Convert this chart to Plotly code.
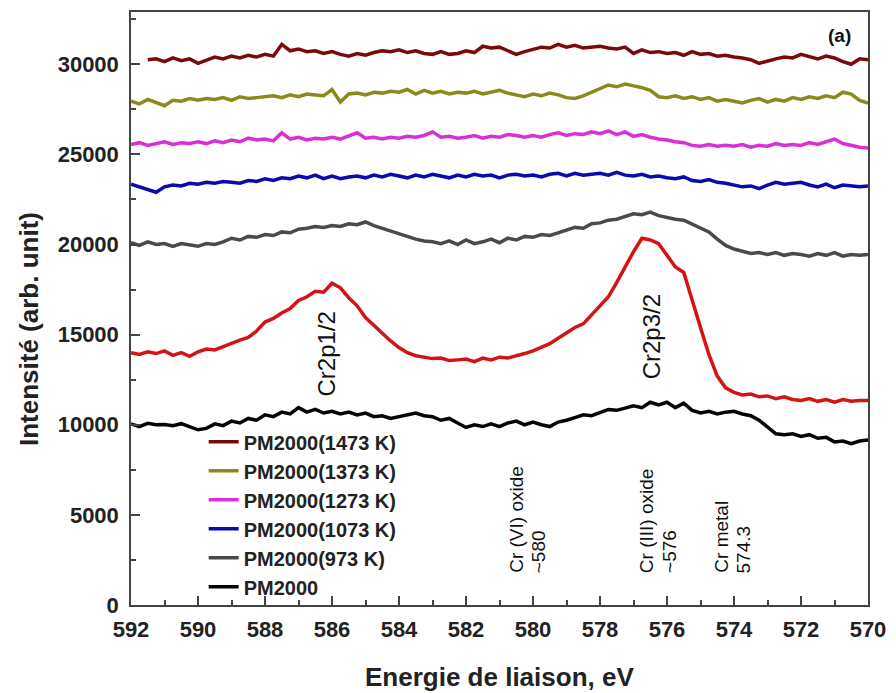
import plotly.graph_objects as go

# Binding energy grid (eV), 592 -> 570 in 0.25 eV steps
energy = [round(592 - 0.25 * i, 2) for i in range(89)]

pm2000_1473 = [
    None, None, 30250, 30300, 30150, 30350, 30200, 30300,
    30050, 30250, 30400, 30300, 30450, 30350, 30500, 30400,
    30550, 30450, 31100, 30750, 30850, 30700, 30750, 30600,
    30700, 30550, 30450, 30600, 30500, 30650, 30750, 30700,
    30800, 30650, 30750, 30600, 30550, 30700, 30550, 30600,
    30750, 30650, 31000, 30900, 30950, 30750, 30550, 30700,
    30850, 30950, 30900, 31100, 30950, 31050, 30900, 30950,
    31000, 30900, 30850, 30950, 30600, 30800, 30650, 30700,
    30600, 30650, 30500, 30700, 30550, 30600, 30450, 30500,
    30400, 30350, 30250, 30050, 30200, 30300, 30400, 30350,
    30550, 30400, 30300, 30450, 30350, 30150, 30000, 30300,
    30250,
]
pm2000_1373 = [
    27950, 27800, 28050, 27900, 27700, 28000, 27950, 28100,
    28000, 28100, 28050, 28150, 28000, 28200, 28100, 28150,
    28200, 28250, 28150, 28300, 28200, 28350, 28300, 28250,
    28600, 27900, 28350, 28400, 28300, 28450, 28400, 28500,
    28450, 28600, 28350, 28550, 28400, 28500, 28350, 28450,
    28400, 28500, 28350, 28450, 28550, 28400, 28300, 28200,
    28350, 28250, 28400, 28300, 28150, 28100, 28250, 28450,
    28600, 28850, 28750, 28900, 28800, 28700, 28550, 28200,
    28150, 28250, 28100, 28200, 28050, 28150, 27950, 28050,
    27950, 27850, 28000, 28100, 27900, 28050, 27950, 28150,
    28050, 28200, 28100, 28250, 28150, 28450, 28350, 28000,
    27850,
]
pm2000_1273 = [
    25550, 25650, 25500, 25600, 25700, 25550, 25650, 25600,
    25700, 25600, 25750, 25650, 25800, 25700, 25900, 25800,
    25850, 25750, 26200, 25850, 25950, 25800, 25900, 25850,
    25950, 25850, 26000, 26200, 25900, 25950, 25850, 25950,
    25900, 26000, 25950, 26050, 26250, 25950, 26000, 25900,
    25950, 26050, 25900, 26000, 25950, 26100, 26050, 25950,
    26050, 25950, 26100, 26200, 26050, 26150, 26100, 26250,
    26150, 26300, 26100, 26250, 26000, 26100, 25950, 25850,
    25800, 25700, 25650, 25500, 25450, 25550, 25450, 25500,
    25450, 25550, 25400, 25500, 25450, 25600, 25500, 25550,
    25500, 25650, 25550, 25700, 25850, 25600, 25500, 25400,
    25350,
]
pm2000_1073 = [
    23350, 23200, 23050, 22900, 23200, 23300, 23250, 23400,
    23350, 23450, 23400, 23500, 23450, 23400, 23550, 23500,
    23650, 23550, 23700, 23650, 23800, 23700, 23850, 23650,
    23800, 23650, 23750, 23800, 23700, 23850, 23750, 23900,
    23800, 23700, 23850, 23750, 23900, 23800, 23700, 23850,
    23750, 23900, 23800, 23850, 23700, 23850, 23900, 23800,
    23850, 23750, 23900, 23950, 23800, 23950, 23850, 23900,
    23950, 23850, 24000, 23850, 23800, 23900, 23750, 23800,
    23700, 23650, 23750, 23550, 23500, 23600, 23450, 23400,
    23300, 23200, 23250, 23100, 23300, 23450, 23350, 23400,
    23450, 23300, 23200, 23350, 23150, 23300, 23250, 23200,
    23250,
]
pm2000_973 = [
    20100, 19950, 20150, 20000, 20050, 19900, 20050, 19950,
    19900, 20050, 20000, 20150, 20350, 20250, 20450, 20400,
    20550, 20500, 20700, 20650, 20850, 20900, 21000, 20950,
    21050, 21000, 21150, 21100, 21250, 21050, 20900, 20700,
    20550, 20450, 20300, 20200, 20150, 20050, 20200, 20000,
    20250, 20050, 20150, 20300, 20100, 20350, 20250, 20450,
    20400, 20550, 20500, 20650, 20800, 20950, 20900, 21150,
    21200, 21350, 21400, 21550, 21700, 21650, 21800, 21600,
    21500, 21400, 21350, 21150, 20950, 20700, 20300, 19950,
    19750, 19600, 19500, 19550, 19450, 19550, 19400, 19500,
    19450, 19350, 19500, 19400, 19550, 19350, 19450, 19400,
    19450,
]
pm2000_red = [
    14000, 13900, 14050, 13950, 14100, 13850, 14000, 13800,
    14050, 14200, 14150, 14350, 14500, 14700, 14850, 15200,
    15700, 15900, 16200, 16450, 16900, 17100, 17400, 17350,
    17850, 17600, 17050, 16600, 15950, 15500, 15050, 14650,
    14280, 14000, 13830, 13750, 13670, 13700, 13560, 13600,
    13650, 13500, 13700, 13600, 13750, 13700, 13850, 13950,
    14100, 14300, 14500, 14800, 15100, 15400, 15600, 16100,
    16600, 17100, 17900, 18800, 19600, 20350, 20250, 20050,
    19400, 18750, 18450, 17000, 15400, 13900, 12700, 12050,
    11800, 11650, 11700, 11550, 11600, 11450, 11550, 11400,
    11350, 11450, 11300, 11400, 11250, 11400, 11300, 11350,
    11350,
]
pm2000 = [
    10050, 9900, 10080, 10000, 10020, 9950, 10060, 9900,
    9720, 9800, 10050, 9950, 10200, 10100, 10350, 10250,
    10550, 10450, 10700, 10600, 10950, 10700, 10850, 10650,
    10750, 10600, 10700, 10550, 10650, 10450, 10500, 10350,
    10450, 10550, 10650, 10500, 10450, 10250, 10350, 10100,
    9850, 10000, 9900, 10050, 9900, 10100, 10200, 10000,
    10150, 10000, 9900, 10150, 10250, 10400, 10550, 10500,
    10700, 10850, 10800, 10950, 11050, 10950, 11250, 11100,
    11250, 10950, 11200, 10800, 10650, 10750, 10600, 10700,
    10750, 10600, 10500, 10250, 9900, 9500, 9450, 9500,
    9350, 9450, 9250, 9300, 9050, 9100, 8950, 9100,
    9150,
]

series_names = ["PM2000(1473 K)", "PM2000(1373 K)", "PM2000(1273 K)",
                "PM2000(1073 K)", "PM2000(973 K)", "", "PM2000"]
series_values = [pm2000_1473, pm2000_1373, pm2000_1273, pm2000_1073,
                 pm2000_973, pm2000_red, pm2000]
series_colors = ["#7a0a0a", "#8a8a1c", "#d92fd9", "#0a0ab0",
                 "#4a4a4a", "#d41414", "#050505"]

x_ticks = [592, 590, 588, 586, 584, 582, 580, 578, 576, 574, 572, 570]
y_ticks = [0, 5000, 10000, 15000, 20000, 25000, 30000]

peak_labels = [("Cr2p1/2", 586.15, 13950), ("Cr2p3/2", 576.45, 14900)]
ref_labels = [("Cr (VI) oxide", 580.5), ("~580", 579.83),
              ("Cr (III) oxide", 576.61), ("~576", 575.93),
              ("Cr metal", 574.4), ("574.3", 573.72)]
ref_label_base = 1660

FONT = "Liberation Sans, Arial, sans-serif"

fig = go.Figure()
for i, (name, vals, col) in enumerate(zip(series_names, series_values, series_colors)):
    fig.add_trace(go.Scatter(
        x=energy, y=vals, mode="lines", name=name,
        line=dict(color=col, width=3.5),
        showlegend=bool(name), legendgroup=f"g{i}",
        connectgaps=False,
    ))

for txt, xv, yv in peak_labels:
    fig.add_annotation(x=xv, y=yv, xref="x", yref="y", text=txt, showarrow=False,
                       textangle=-90, font=dict(family=FONT, size=24, color="#111"),
                       xanchor="center", yanchor="middle")
for txt, xv in ref_labels:
    fig.add_annotation(x=xv, y=ref_label_base, xref="x", yref="y", text=txt,
                       showarrow=False, textangle=-90,
                       font=dict(family=FONT, size=19, color="#111"),
                       xanchor="center", yanchor="bottom")

fig.add_annotation(x=0.961, y=0.961, xref="paper", yref="paper", text="<b>(a)</b>",
                   showarrow=False, font=dict(family=FONT, size=19, color="#111"),
                   xanchor="center", yanchor="middle")
fig.add_annotation(x=-0.1383, y=0.4655, xref="paper", yref="paper",
                   text="<b>Intensité (arb. unit)</b>", showarrow=False, textangle=-90,
                   font=dict(family=FONT, size=26, color="#222"),
                   xanchor="center", yanchor="middle")
fig.add_annotation(x=0.5, y=-0.121, xref="paper", yref="paper",
                   text="<b>Energie de liaison, eV</b>", showarrow=False,
                   font=dict(family=FONT, size=26, color="#222"),
                   xanchor="center", yanchor="middle")

axis_common = dict(showline=True, mirror=True, linecolor="#444", linewidth=1.5,
                   ticks="inside", tickcolor="#444", tickwidth=1.5, ticklen=9,
                   showgrid=False, zeroline=False, tickformat="d",
                   tickfont=dict(family=FONT, size=22, color="#222", weight="bold"))

fig.update_xaxes(range=[592, 570], tickvals=x_ticks, ticklabelstandoff=4,
                 minor=dict(dtick=1, tick0=570, ticks="inside", ticklen=5,
                            tickcolor="#444", tickwidth=1.5),
                 **axis_common)
fig.update_yaxes(range=[0, 32900], tickvals=y_ticks, ticklabelstandoff=6,
                 minor=dict(dtick=2500, tick0=0, ticks="inside", ticklen=5,
                            tickcolor="#444", tickwidth=1.5),
                 **axis_common)

fig.update_layout(
    width=896, height=693,
    margin=dict(l=131, r=20, t=10, b=88),
    paper_bgcolor="white", plot_bgcolor="white",
    font=dict(family=FONT, color="#222"),
    legend=dict(x=0.0986, y=0.308, xanchor="left", yanchor="top",
                bgcolor="rgba(0,0,0,0)", traceorder="grouped", tracegroupgap=0,
                font=dict(family=FONT, size=20, color="#222", weight="bold")),
)

fig.write_html("out.html")
